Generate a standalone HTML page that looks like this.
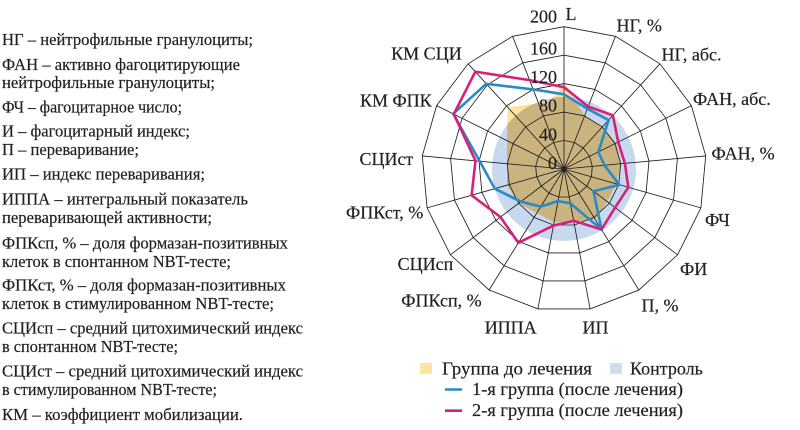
<!DOCTYPE html>
<html><head><meta charset="utf-8"><style>
html,body{margin:0;padding:0;background:#fff;}
svg{display:block;}
svg text{font-family:"Liberation Serif","DejaVu Serif",serif;font-size:17px;fill:#231f20;stroke:#231f20;stroke-width:0.2px;}
svg text.c{font-size:18px;}
</style></head><body>
<svg width="800" height="430" viewBox="0 0 800 430" xmlns="http://www.w3.org/2000/svg">
<defs>
<clipPath id="ctrl"><circle cx="564" cy="169" r="72"/></clipPath>
</defs>
<rect width="800" height="430" fill="#fff"/>

<circle cx="564" cy="169" r="72" fill="#c7d8ef"/>
<polygon fill="#fde49e" points="564,82 584.6,115.9 602.3,127 616.2,143 620.7,163.7 616.7,184 607.2,201.6 595.5,219.8 573.9,222.2 554.1,222.2 536.7,213.1 518.6,203.3 507,185.2 507,163.7 507,140.6 507.5,107.5 538.5,103.3 550,101.7"/>
<polygon fill="#c9b37e" clip-path="url(#ctrl)" points="564,82 584.6,115.9 602.3,127 616.2,143 620.7,163.7 616.7,184 607.2,201.6 595.5,219.8 573.9,222.2 554.1,222.2 536.7,213.1 518.6,203.3 507,185.2 507,163.7 507,140.6 507.5,107.5 538.5,103.3 550,101.7"/>

<g fill="none" stroke="#231f20" stroke-width="0.85">
<polygon points="564,26.7 615.4,36.3 659.9,63.8 691.4,105.6 705.7,155.9 700.9,207.9 677.6,254.8 638.9,290 590.1,308.9 537.9,308.9 489.1,290 450.4,254.8 427.1,207.9 422.3,155.9 436.6,105.6 468.1,63.8 512.6,36.3"/>
<polygon points="564,55.2 605.1,62.8 640.7,84.9 665.9,118.3 677.4,158.5 673.5,200.2 654.8,237.6 623.9,265.8 584.9,280.9 543.1,280.9 504.1,265.8 473.2,237.6 454.5,200.2 450.6,158.5 462.1,118.3 487.3,84.9 522.9,62.8"/>
<polygon points="564,83.6 594.8,89.4 621.5,105.9 640.4,130.9 649,161.1 646.1,192.4 632.1,220.5 608.9,241.6 579.7,252.9 548.3,252.9 519.1,241.6 495.9,220.5 481.9,192.4 479,161.1 487.6,130.9 506.5,105.9 533.2,89.4"/>
<polygon points="564,112.1 584.6,115.9 602.3,126.9 615,143.6 620.7,163.7 618.7,184.6 609.4,203.3 594,217.4 574.5,225 553.5,225 534,217.4 518.6,203.3 509.3,184.6 507.3,163.7 513,143.6 525.7,126.9 543.4,115.9"/>
<polygon points="564,140.5 574.3,142.5 583.2,148 589.5,156.3 592.3,166.4 591.4,176.8 586.7,186.2 579,193.2 569.2,197 558.8,197 549,193.2 541.3,186.2 536.6,176.8 535.7,166.4 538.5,156.3 544.8,148 553.7,142.5"/>
<path d="M564,169L564,26.7M564,169L615.4,36.3M564,169L659.9,63.8M564,169L691.4,105.6M564,169L705.7,155.9M564,169L700.9,207.9M564,169L677.6,254.8M564,169L638.9,290M564,169L590.1,308.9M564,169L537.9,308.9M564,169L489.1,290M564,169L450.4,254.8M564,169L427.1,207.9M564,169L422.3,155.9M564,169L436.6,105.6M564,169L468.1,63.8M564,169L512.6,36.3"/>
</g>

<polygon fill="none" stroke="#2a89c8" stroke-width="2.6" stroke-linejoin="miter" points="564,94.3 587.4,108.7 608.6,120.1 598.4,151.9 604.4,165.3 619.4,184.8 593.5,191.3 601.5,229.5 570.4,203.3 558,201.1 540.8,206.5 520.8,201.6 494.8,188.7 479.7,161.2 453.2,113.8 486.3,83.8 533.2,89.4"/>
<polygon fill="none" stroke="#d6217b" stroke-width="2.6" stroke-linejoin="miter" points="564,87.2 588.2,106.6 612.9,115.3 618.2,142 624.9,163.4 628.3,187.3 615.1,207.6 601.5,229.5 573.7,220.8 553.4,225.6 518.3,242.8 500.4,217 471.6,195.3 475.5,160.8 453.8,114.1 475.3,71.7 529.6,80.1"/>

<g text-anchor="end">
<text class="c" x="557" y="22.5">200</text>
<text class="c" x="557" y="54.5">160</text>
<text class="c" x="557" y="83">120</text>
<text class="c" x="557" y="111.5">80</text>
<text class="c" x="557" y="140.5">40</text>
<text class="c" x="557" y="169">0</text>
</g>

<text class="c" x="565.5" y="20">L</text>
<text class="c" x="616.5" y="31.7">НГ, %</text>
<text class="c" x="661.5" y="60.7">НГ, абс.</text>
<text class="c" x="693" y="105">ФАН, абс.</text>
<text class="c" x="711.5" y="159.3">ФАН, %</text>
<text class="c" x="705" y="226">ФЧ</text>
<text class="c" x="680" y="275">ФИ</text>
<text class="c" x="641.5" y="311.7">П, %</text>
<text class="c" x="582.5" y="333.3">ИП</text>
<g text-anchor="end">
<text class="c" x="536.7" y="333.3">ИППА</text>
<text class="c" x="481.7" y="306.7">ФПКсп, %</text>
<text class="c" x="453.3" y="270">СЦИсп</text>
<text class="c" x="423.3" y="218.3">ФПКст, %</text>
<text class="c" x="413.3" y="165">СЦИст</text>
<text class="c" x="431.7" y="106.7">КМ ФПК</text>
<text class="c" x="461.7" y="59.3">КМ СЦИ</text>
</g>

<g>
<text x="2" y="45" textLength="251" lengthAdjust="spacingAndGlyphs">НГ – нейтрофильные гранулоциты;</text>
<text x="2" y="70" textLength="238" lengthAdjust="spacingAndGlyphs">ФАН – активно фагоцитирующие</text>
<text x="2" y="88" textLength="213" lengthAdjust="spacingAndGlyphs">нейтрофильные гранулоциты;</text>
<text x="2" y="112.7" textLength="180" lengthAdjust="spacingAndGlyphs">ФЧ – фагоцитарное число;</text>
<text x="2" y="136.7" textLength="188" lengthAdjust="spacingAndGlyphs">И – фагоцитарный индекс;</text>
<text x="2" y="155" textLength="137" lengthAdjust="spacingAndGlyphs">П – переваривание;</text>
<text x="2" y="179.3" textLength="203" lengthAdjust="spacingAndGlyphs">ИП – индекс переваривания;</text>
<text x="2" y="204.3" textLength="246" lengthAdjust="spacingAndGlyphs">ИППА – интегральный показатель</text>
<text x="2" y="223" textLength="210" lengthAdjust="spacingAndGlyphs">переваривающей активности;</text>
<text x="2" y="248.3" textLength="286" lengthAdjust="spacingAndGlyphs">ФПКсп, % – доля формазан-позитивных</text>
<text x="2" y="267" textLength="229" lengthAdjust="spacingAndGlyphs">клеток в спонтанном NBT-тесте;</text>
<text x="2" y="290.5" textLength="284" lengthAdjust="spacingAndGlyphs">ФПКст, % – доля формазан-позитивных</text>
<text x="2" y="309" textLength="272" lengthAdjust="spacingAndGlyphs">клеток в стимулированном NBT-тесте;</text>
<text x="2" y="333.5" textLength="301" lengthAdjust="spacingAndGlyphs">СЦИсп – средний цитохимический индекс</text>
<text x="2" y="352" textLength="176" lengthAdjust="spacingAndGlyphs">в спонтанном NBT-тесте;</text>
<text x="2" y="376.5" textLength="301" lengthAdjust="spacingAndGlyphs">СЦИст – средний цитохимический индекс</text>
<text x="2" y="395" textLength="215" lengthAdjust="spacingAndGlyphs">в стимулированном NBT-тесте;</text>
<text x="2" y="420" textLength="241" lengthAdjust="spacingAndGlyphs">КМ – коэффициент мобилизации.</text>
</g>

<rect x="420" y="363" width="12" height="11" fill="#fde4a0"/>
<text class="c" x="442" y="374.4" textLength="150" lengthAdjust="spacingAndGlyphs">Группа до лечения</text>
<rect x="610" y="363" width="12" height="11" fill="#d0ddef"/>
<text class="c" x="630" y="374.4">Контроль</text>
<line x1="445" y1="389.5" x2="462" y2="389.5" stroke="#2a89c8" stroke-width="2.6"/>
<text class="c" x="472" y="395.2" textLength="211" lengthAdjust="spacingAndGlyphs">1-я группа (после лечения)</text>
<line x1="445" y1="410.7" x2="462" y2="410.7" stroke="#d6217b" stroke-width="2.6"/>
<text class="c" x="472" y="416.2" textLength="211" lengthAdjust="spacingAndGlyphs">2-я группа (после лечения)</text>
</svg>
</body></html>
